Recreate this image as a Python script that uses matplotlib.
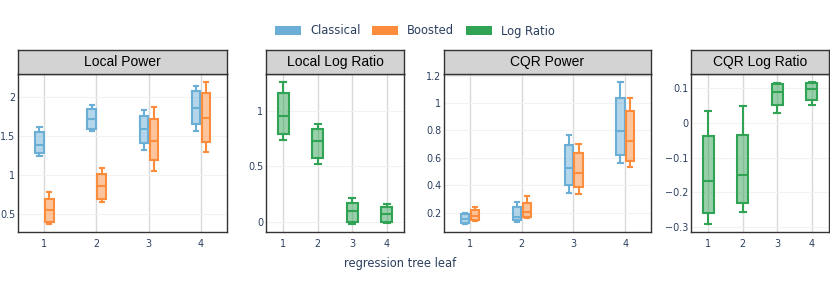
import matplotlib.pyplot as plt
from matplotlib.patches import Patch
from matplotlib.ticker import FuncFormatter

leaves = [1, 2, 3, 4]
panel_titles = ["Local Power", "Local Log Ratio", "CQR Power", "CQR Log Ratio"]
series_names = ["Classical", "Boosted", "Log Ratio"]

# five-number summaries per leaf: low whisker, q1, median, q3, high whisker
lp_classical = [[1.245, 1.28, 1.383, 1.55, 1.614],
                [1.563, 1.597, 1.717, 1.854, 1.897],
                [1.323, 1.417, 1.589, 1.764, 1.837],
                [1.571, 1.657, 1.866, 2.08, 2.14]]
lp_boosted = [[0.367, 0.40, 0.547, 0.70, 0.783],
              [0.66, 0.70, 0.86, 1.018, 1.095],
              [1.057, 1.194, 1.434, 1.725, 1.88],
              [1.30, 1.42, 1.734, 2.06, 2.197]]
llr_ratio = [[0.738, 0.789, 0.955, 1.165, 1.262],
             [0.521, 0.573, 0.729, 0.837, 0.88],
             [-0.024, 0.0, 0.097, 0.172, 0.214],
             [-0.015, 0.0, 0.067, 0.13, 0.16]]
cqr_classical = [[0.118, 0.127, 0.154, 0.188, 0.198],
                 [0.134, 0.144, 0.171, 0.242, 0.278],
                 [0.342, 0.402, 0.526, 0.696, 0.769],
                 [0.565, 0.621, 0.796, 1.04, 1.154]]
cqr_boosted = [[0.139, 0.147, 0.178, 0.22, 0.242],
               [0.159, 0.169, 0.205, 0.269, 0.32],
               [0.337, 0.385, 0.488, 0.634, 0.704],
               [0.536, 0.577, 0.726, 0.945, 1.035]]
clr_ratio = [[-0.291, -0.259, -0.167, -0.037, 0.034],
             [-0.257, -0.23, -0.151, -0.035, 0.048],
             [0.029, 0.050, 0.0885, 0.111, 0.113],
             [0.051, 0.066, 0.096, 0.113, 0.117]]

colors = {"Classical": "#6baed6", "Boosted": "#fd8d3c", "Log Ratio": "#31a354"}

panels = [
    {"series": [("Classical", lp_classical), ("Boosted", lp_boosted)],
     "ylim": (0.27, 2.30), "yticks": [0.5, 1, 1.5, 2]},
    {"series": [("Log Ratio", llr_ratio)],
     "ylim": (-0.093, 1.334), "yticks": [0, 0.5, 1]},
    {"series": [("Classical", cqr_classical), ("Boosted", cqr_boosted)],
     "ylim": (0.059, 1.212), "yticks": [0.2, 0.4, 0.6, 0.8, 1, 1.2]},
    {"series": [("Log Ratio", clr_ratio)],
     "ylim": (-0.3135, 0.140), "yticks": [-0.3, -0.2, -0.1, 0, 0.1]},
]

# pixel boxes of the four panels (left, right) in an 830 px wide figure
W, H = 830, 291
x_edges = [(18, 227), (266, 404), (444, 651), (691, 829)]
top_head, top_plot, bottom_plot = 50, 74, 232

tick_color = "#2a3f5f"
plt.rcParams["font.family"] = ["DejaVu Sans"]


def fmt(v, pos):
    s = f"{v:g}"
    return s.replace("-", "\u2212")


fig = plt.figure(figsize=(W / 100, H / 100), dpi=100)

for (x0, x1), title, p in zip(x_edges, panel_titles, panels):
    ax = fig.add_axes([x0 / W, 1 - bottom_plot / H, (x1 - x0) / W,
                       (bottom_plot - top_plot) / H])
    n = len(p["series"])
    if n == 2:
        offsets, width = [-0.09, 0.1], 0.16
    else:
        offsets, width = [0.0], 0.33
    for (name, data), off in zip(p["series"], offsets):
        stats = [{"whislo": d[0], "q1": d[1], "med": d[2], "q3": d[3],
                  "whishi": d[4]} for d in data]
        c = colors[name]
        ax.bxp(stats, positions=[l + off for l in leaves], widths=width,
               capwidths=width * 0.5, showfliers=False, patch_artist=True,
               boxprops=dict(facecolor=c + "80", edgecolor=c, linewidth=1.5),
               medianprops=dict(color=c, linewidth=1.5),
               whiskerprops=dict(color=c, linewidth=1.5),
               capprops=dict(color=c, linewidth=1.5), manage_ticks=False,
               zorder=3)
    ax.set_xlim(0.5, 4.5)
    ax.set_ylim(*p["ylim"])
    ax.set_xticks(leaves)
    ax.set_yticks(p["yticks"])
    ax.yaxis.set_major_formatter(FuncFormatter(fmt))
    ax.tick_params(length=0, labelsize=6.9, colors=tick_color, pad=2)
    ax.tick_params(axis="x", pad=5)
    ax.grid(axis="x", color="#d9d9d9", linewidth=1, zorder=0)
    ax.grid(axis="y", color="#f2f2f2", linewidth=0.8, zorder=0)
    ax.set_axisbelow(True)
    for s in ax.spines.values():
        s.set_color("#333333")
        s.set_linewidth(1)

    hx = fig.add_axes([x0 / W, 1 - top_plot / H, (x1 - x0) / W,
                       (top_plot - top_head) / H])
    hx.set_facecolor("#d3d3d3")
    hx.set_xticks([])
    hx.set_yticks([])
    for s in hx.spines.values():
        s.set_color("#333333")
        s.set_linewidth(1)
    hx.text(0.5, 0.48, title, ha="center", va="center", fontsize=10,
            color="black", family="Liberation Sans", transform=hx.transAxes)

fig.text(400 / W, 1 - 264 / H, "regression tree leaf", ha="center",
         va="center", fontsize=8.3, color=tick_color)

handles = [Patch(facecolor=colors[s], edgecolor="none") for s in series_names]
fig.legend(handles, series_names, loc="center", ncol=3,
           bbox_to_anchor=(415 / W, 1 - 31 / H), frameon=False, fontsize=8.3,
           handlelength=2.25, handleheight=0.8, handletextpad=0.8,
           columnspacing=1.0, labelcolor=tick_color)

fig.savefig("out.png", dpi=100)
